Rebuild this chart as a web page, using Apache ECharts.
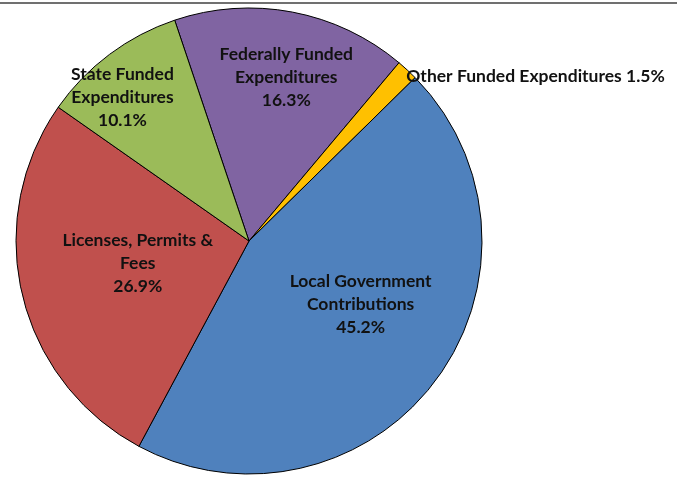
<!DOCTYPE html>
<html>
<head>
<meta charset="utf-8">
<script src="https://cdn.jsdelivr.net/npm/echarts@6/dist/echarts.min.js"></script>
<style>
html,body{margin:0;padding:0;background:#fff;}
#chart{width:677px;height:477px;}
</style>
</head>
<body>
<div id="chart"></div>
<script>
const categories = [
  'Federally Funded Expenditures',
  'Other Funded Expenditures',
  'Local Government Contributions',
  'Licenses, Permits & Fees',
  'State Funded Expenditures'
];
const labelTexts = [
  'Federally Funded\nExpenditures\n16.3%',
  'Other Funded Expenditures 1.5%',
  'Local Government\nContributions\n45.2%',
  'Licenses, Permits &\nFees\n26.9%',
  'State Funded\nExpenditures\n10.1%'
];
const values = [16.3, 1.5, 45.2, 26.9, 10.1];
const colors = ['#8064A2', '#FFC000', '#4F81BD', '#C0504D', '#9BBB59'];
const labelOffsets = [[15, -46], [-6, 6], [16, -8], [5, -5], [-55, -48]];

const chart = echarts.init(document.getElementById('chart'));
const data = values.map((v, i) => {
  const item = {
    name: categories[i],
    value: v,
    itemStyle: { color: colors[i] },
    label: { formatter: labelTexts[i], offset: labelOffsets[i] }
  };
  if (i === 1) {
    item.label.position = 'outside';
    item.label.align = 'left';
    item.labelLine = { show: false, length: 0, length2: 0 };
  }
  return item;
});

chart.setOption({
  animation: false,
  graphic: [{
    type: 'line',
    shape: { x1: 0, y1: 3, x2: 677, y2: 3 },
    style: { stroke: '#707070', lineWidth: 2 }
  }],
  series: [{
    type: 'pie',
    center: [249, 241],
    radius: [0, 233],
    startAngle: 108.6,
    clockwise: true,
    avoidLabelOverlap: false,
    data: data,
    itemStyle: { borderColor: '#000', borderWidth: 1 },
    label: {
      position: 'inside',
      color: '#111',
      fontFamily: 'Lato',
      fontWeight: 'bold',
      fontSize: 17.5,
      lineHeight: 23,
      align: 'center'
    },
    labelLine: { show: false },
    emphasis: { disabled: true }
  }]
});
</script>
</body>
</html>
